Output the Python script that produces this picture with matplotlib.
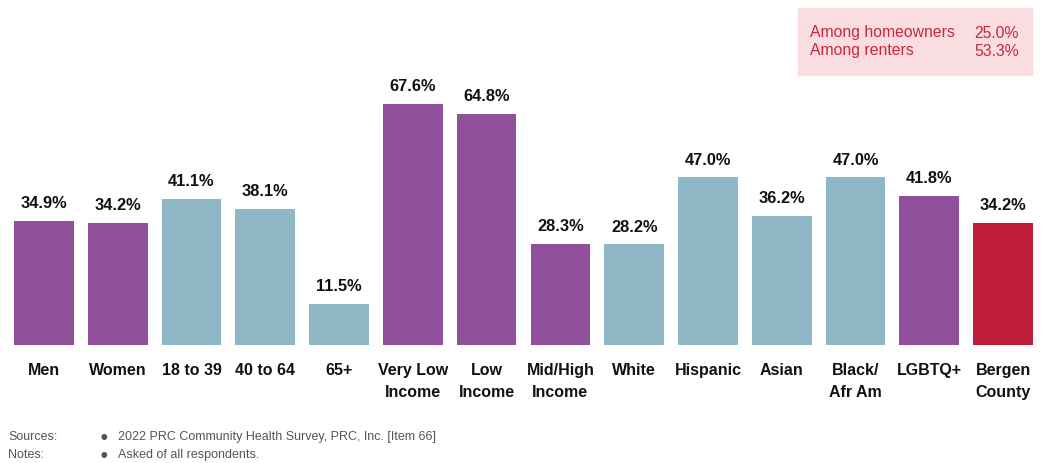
import matplotlib
matplotlib.use("Agg")
import matplotlib.pyplot as plt
from matplotlib.patches import Rectangle

# data
categories = ["Men", "Women", "18 to 39", "40 to 64", "65+", "Very Low\nIncome",
              "Low\nIncome", "Mid/High\nIncome", "White", "Hispanic", "Asian",
              "Black/\nAfr Am", "LGBTQ+", "Bergen\nCounty"]
values = [34.9, 34.2, 41.1, 38.1, 11.5, 67.6, 64.8, 28.3, 28.2, 47.0, 36.2, 47.0, 41.8, 34.2]
groups = ["p", "p", "b", "b", "b", "p", "p", "p", "b", "b", "b", "b", "p", "r"]
callout_labels = ["Among homeowners", "Among renters"]
callout_values = ["25.0%", "53.3%"]

colors = {"p": "#91509C", "b": "#8FB8C7", "r": "#BE1E3C"}
font = ["Liberation Sans", "DejaVu Sans"]

fig = plt.figure(figsize=(10.42, 4.63), dpi=100)
ax = fig.add_axes([7 / 1042, 118 / 463, 1033 / 1042, 345 / 463])

x = range(len(values))
ax.bar(x, values, width=0.81, color=[colors[g] for g in groups])
ax.set_xlim(-0.5, len(values) - 0.5)
ax.set_ylim(0, 96.8)
ax.axis("off")

for i, v in enumerate(values):
    ax.annotate(f"{v:.1f}%", xy=(i, v), xytext=(0, 7), textcoords="offset points",
                ha="center", va="bottom", fontsize=11.8, fontweight="bold",
                family=font, color="#111111")
    ax.annotate(categories[i], xy=(i, 0), xytext=(0, -13), textcoords="offset points",
                ha="center", va="top", fontsize=11.5, fontweight="bold",
                family=font, color="#111111", linespacing=1.6)

# callout box
fig.patches.append(Rectangle((798 / 1042, 1 - 75 / 463), 234 / 1042, 67 / 463,
                             transform=fig.transFigure, color="#F9DDE0", zorder=0))
for j, (lab, val) in enumerate(zip(callout_labels, callout_values)):
    y = 1 - (33 + 18 * j) / 463
    fig.text(810 / 1042, y, lab, fontsize=11.3, color="#C8283E",
             family=font, va="center")
    fig.text(1019 / 1042, y, val, fontsize=11.3, color="#C8283E",
             family=font, va="center", ha="right")

# footer
footer = [("Sources:", "2022 PRC Community Health Survey, PRC, Inc. [Item 66]"),
          ("Notes:", "Asked of all respondents.")]
for j, (head, txt) in enumerate(footer):
    y = 1 - (437 + 18 * j) / 463
    fig.text(8 / 1042, y, head, fontsize=9, color="#555555", family=font, va="center")
    fig.text(101 / 1042, y, "\u25cf", fontsize=5.5, color="#555555", va="center")
    fig.text(118 / 1042, y, txt, fontsize=9, color="#555555", family=font, va="center")

fig.savefig("out.png", dpi=100)
